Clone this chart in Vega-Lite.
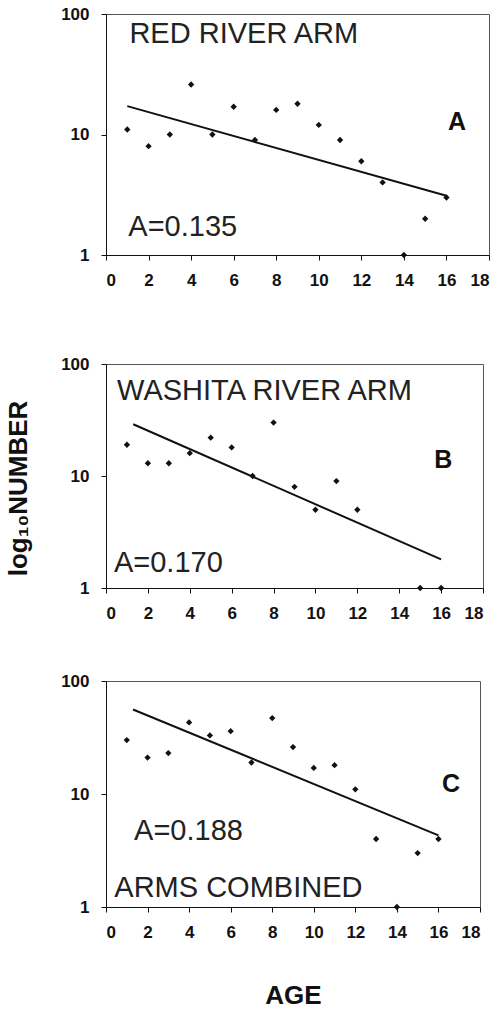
{
  "$schema": "https://vega.github.io/schema/vega-lite/v6.json",
  "padding": {"left": 5, "top": 4, "right": 5, "bottom": 5},
  "background": "white",
  "config": {
    "view": {"stroke": "#555", "strokeWidth": 1},
    "axis": {
      "grid": false,
      "domainColor": "#111",
      "tickColor": "#111",
      "tickSize": 5,
      "labelColor": "#111",
      "labelFont": "Liberation Sans",
      "labelFontWeight": "bold",
      "labelFontSize": 17,
      "titleColor": "#111",
      "titleFont": "Liberation Sans",
      "titleFontWeight": "bold"
    },
    "text": {"font": "Liberation Sans", "color": "#222"}
  },
  "datasets": {
    "A_pts": [
      {"age": 1, "number": 11}, {"age": 2, "number": 8}, {"age": 3, "number": 10}, {"age": 4, "number": 26},
      {"age": 5, "number": 10}, {"age": 6, "number": 17}, {"age": 7, "number": 9}, {"age": 8, "number": 16},
      {"age": 9, "number": 18}, {"age": 10, "number": 12}, {"age": 11, "number": 9}, {"age": 12, "number": 6},
      {"age": 13, "number": 4}, {"age": 14, "number": 1}, {"age": 15, "number": 2}, {"age": 16, "number": 3}
    ],
    "A_fit": [{"age": 1, "number": 17.2}, {"age": 16, "number": 3.1}],
    "A_txt": [
      {"age": 1.1, "number": 68.8, "label": "RED RIVER ARM"},
      {"age": 1.05, "number": 1.71, "label": "A=0.135"}
    ],
    "A_tag": [{"age": 16.5, "number": 12.6, "label": "A"}],
    "B_pts": [
      {"age": 1, "number": 19}, {"age": 2, "number": 13}, {"age": 3, "number": 13}, {"age": 4, "number": 16},
      {"age": 5, "number": 22}, {"age": 6, "number": 18}, {"age": 7, "number": 10}, {"age": 8, "number": 30},
      {"age": 9, "number": 8}, {"age": 10, "number": 5}, {"age": 11, "number": 9}, {"age": 12, "number": 5},
      {"age": 15, "number": 1}, {"age": 16, "number": 1}
    ],
    "B_fit": [{"age": 1.3, "number": 29}, {"age": 16, "number": 1.8}],
    "B_txt": [
      {"age": 0.53, "number": 57.4, "label": "WASHITA RIVER ARM"},
      {"age": 0.38, "number": 1.67, "label": "A=0.170"}
    ],
    "B_tag": [{"age": 16.1, "number": 13.9, "label": "B"}],
    "C_pts": [
      {"age": 1, "number": 30}, {"age": 2, "number": 21}, {"age": 3, "number": 23}, {"age": 4, "number": 43},
      {"age": 5, "number": 33}, {"age": 6, "number": 36}, {"age": 7, "number": 19}, {"age": 8, "number": 47},
      {"age": 9, "number": 26}, {"age": 10, "number": 17}, {"age": 11, "number": 18}, {"age": 12, "number": 11},
      {"age": 13, "number": 4}, {"age": 14, "number": 1}, {"age": 15, "number": 3}, {"age": 16, "number": 4}
    ],
    "C_fit": [{"age": 1.3, "number": 56}, {"age": 16, "number": 4.3}],
    "C_txt": [
      {"age": 1.35, "number": 4.7, "label": "A=0.188"},
      {"age": 0.4, "number": 1.46, "label": "ARMS COMBINED"}
    ],
    "C_tag": [{"age": 16.6, "number": 12.2, "label": "C"}]
  },
  "spacing": 65,
  "vconcat": [
    {
      "width": 383,
      "height": 241,
      "encoding": {
        "x": {"field": "age", "type": "quantitative", "scale": {"domain": [0, 18], "nice": false},
              "axis": {"values": [0, 2, 4, 6, 8, 10, 12, 14, 16, 18], "title": null, "labelPadding": 12}},
        "y": {"field": "number", "type": "quantitative", "scale": {"type": "log", "domain": [1, 100], "nice": false},
              "axis": {"values": [1, 10, 100], "format": "d", "title": null, "labelPadding": 12}}
      },
      "layer": [
        {"data": {"name": "A_pts"}, "mark": {"type": "point", "shape": "diamond", "filled": true, "color": "#111", "size": 40, "opacity": 1}},
        {"data": {"name": "A_fit"}, "mark": {"type": "line", "color": "#111", "strokeWidth": 2}},
        {"data": {"name": "A_txt"}, "mark": {"type": "text", "align": "left", "baseline": "middle", "fontSize": 29}, "encoding": {"text": {"field": "label"}}},
        {"data": {"name": "A_tag"}, "mark": {"type": "text", "align": "center", "baseline": "middle", "fontSize": 25, "fontWeight": "bold", "color": "#111"}, "encoding": {"text": {"field": "label"}}}
      ]
    },
    {
      "spacing": 49,
      "vconcat": [
        {
          "width": 377,
          "height": 224,
          "encoding": {
            "x": {"field": "age", "type": "quantitative", "scale": {"domain": [0, 18], "nice": false},
                  "axis": {"values": [0, 2, 4, 6, 8, 10, 12, 14, 16, 18], "title": null, "labelPadding": 12}},
            "y": {"field": "number", "type": "quantitative", "scale": {"type": "log", "domain": [1, 100], "nice": false},
                  "axis": {"values": [1, 10, 100], "format": "d", "title": "log₁₀NUMBER", "titleFontSize": 26, "titlePadding": 29, "titleY": 124, "labelPadding": 12}}
          },
          "layer": [
            {"data": {"name": "B_pts"}, "mark": {"type": "point", "shape": "diamond", "filled": true, "color": "#111", "size": 40, "opacity": 1}},
            {"data": {"name": "B_fit"}, "mark": {"type": "line", "color": "#111", "strokeWidth": 2}},
            {"data": {"name": "B_txt"}, "mark": {"type": "text", "align": "left", "baseline": "middle", "fontSize": 29}, "encoding": {"text": {"field": "label"}}},
            {"data": {"name": "B_tag"}, "mark": {"type": "text", "align": "center", "baseline": "middle", "fontSize": 25, "fontWeight": "bold", "color": "#111"}, "encoding": {"text": {"field": "label"}}}
          ]
        },
        {
          "width": 374,
          "height": 226,
          "encoding": {
            "x": {"field": "age", "type": "quantitative", "scale": {"domain": [0, 18], "nice": false},
                  "axis": {"values": [0, 2, 4, 6, 8, 10, 12, 14, 16, 18], "title": "AGE", "titleFontSize": 26, "titlePadding": 42, "labelPadding": 12}},
            "y": {"field": "number", "type": "quantitative", "scale": {"type": "log", "domain": [1, 100], "nice": false},
                  "axis": {"values": [1, 10, 100], "format": "d", "title": null, "labelPadding": 12}}
          },
          "layer": [
            {"data": {"name": "C_pts"}, "mark": {"type": "point", "shape": "diamond", "filled": true, "color": "#111", "size": 40, "opacity": 1}},
            {"data": {"name": "C_fit"}, "mark": {"type": "line", "color": "#111", "strokeWidth": 2}},
            {"data": {"name": "C_txt"}, "mark": {"type": "text", "align": "left", "baseline": "middle", "fontSize": 29}, "encoding": {"text": {"field": "label"}}},
            {"data": {"name": "C_tag"}, "mark": {"type": "text", "align": "center", "baseline": "middle", "fontSize": 25, "fontWeight": "bold", "color": "#111"}, "encoding": {"text": {"field": "label"}}}
          ]
        }
      ]
    }
  ]
}
